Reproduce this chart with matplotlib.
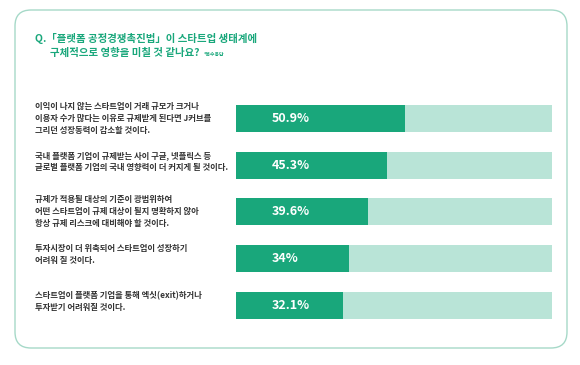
import matplotlib
matplotlib.use("Agg")
import matplotlib.pyplot as plt
from matplotlib.patches import FancyBboxPatch
import matplotlib.transforms as mtransforms

plt.rcParams['font.family'] = ['Noto Sans CJK KR', 'DejaVu Sans']

# dati
etichette = [
    "이익이 나지 않는 스타트업이 거래 규모가 크거나\n이용자 수가 많다는 이유로 규제받게 된다면 J커브를\n그리던 성장동력이 감소할 것이다.",
    "국내 플랫폼 기업이 규제받는 사이 구글, 넷플릭스 등\n글로벌 플랫폼 기업의 국내 영향력이 더 커지게 될 것이다.",
    "규제가 적용될 대상의 기준이 광범위하여\n어떤 스타트업이 규제 대상이 될지 명확하지 않아\n항상 규제 리스크에 대비해야 할 것이다.",
    "투자시장이 더 위축되어 스타트업이 성장하기\n어려워 질 것이다.",
    "스타트업이 플랫폼 기업을 통해 엑싯(exit)하거나\n투자받기 어려워질 것이다.",
]
valori = [50.9, 45.3, 39.6, 34.0, 32.1]
testi_valori = ["50.9%", "45.3%", "39.6%", "34%", "32.1%"]
scala_max = 95

VERDE = '#19a77b'
VERDE_CHIARO = '#b9e4d7'
BORDO = '#a6d9c8'

fig = plt.figure(figsize=(5.8, 3.65), dpi=100)
fig.patch.set_facecolor('white')

# cornice arrotondata (coordinate in pollici)
cornice = FancyBboxPatch((0.15, 0.17), 5.52, 3.38,
                         boxstyle="round,pad=0,rounding_size=0.16",
                         transform=fig.dpi_scale_trans, zorder=-10,
                         facecolor='white', edgecolor=BORDO, linewidth=1.0)
fig.patches.append(cornice)

# titolo
fig.text(35 / 580, 1 - 38 / 365, "Q.「플랫폼 공정경쟁촉진법」이 스타트업 생태계에",
         color=VERDE, fontsize=7.5, fontweight='bold', va='center', ha='left')
fig.text(50 / 580, 1 - 53 / 365, "구체적으로 영향을 미칠 것 같나요?",
         color=VERDE, fontsize=7.5, fontweight='bold', va='center', ha='left')
fig.text(204 / 580, 1 - 54 / 365, "*복수응답",
         color=VERDE, fontsize=3.5, fontweight='bold', va='center', ha='left')

ax = fig.add_axes([236 / 580, 0.1, 316 / 580, 0.6397])
ax.set_zorder(1)
pos = list(range(len(valori)))
ax.barh(pos, [scala_max] * len(valori), height=0.58, color=VERDE_CHIARO, linewidth=0)
ax.barh(pos, valori, height=0.58, color=VERDE, linewidth=0)
ax.set_xlim(0, scala_max)
ax.set_ylim(4.5, -0.5)
ax.axis('off')

for i, t in enumerate(testi_valori):
    ax.text(10.7, i, t, color='white', fontsize=9, fontweight='bold',
            va='center', ha='left')

trans = mtransforms.blended_transform_factory(fig.transFigure, ax.transData)
for i, et in enumerate(etichette):
    # le etichette su due righe stanno un po' più in alto
    spost = 0.0 if et.count('\n') == 2 else -0.08
    ax.text(35 / 580, i + spost, et, transform=trans, color='#333333',
            fontsize=6, fontweight='bold', va='center', ha='left',
            linespacing=1.4, clip_on=False)

fig.savefig('out.png', dpi=100)
